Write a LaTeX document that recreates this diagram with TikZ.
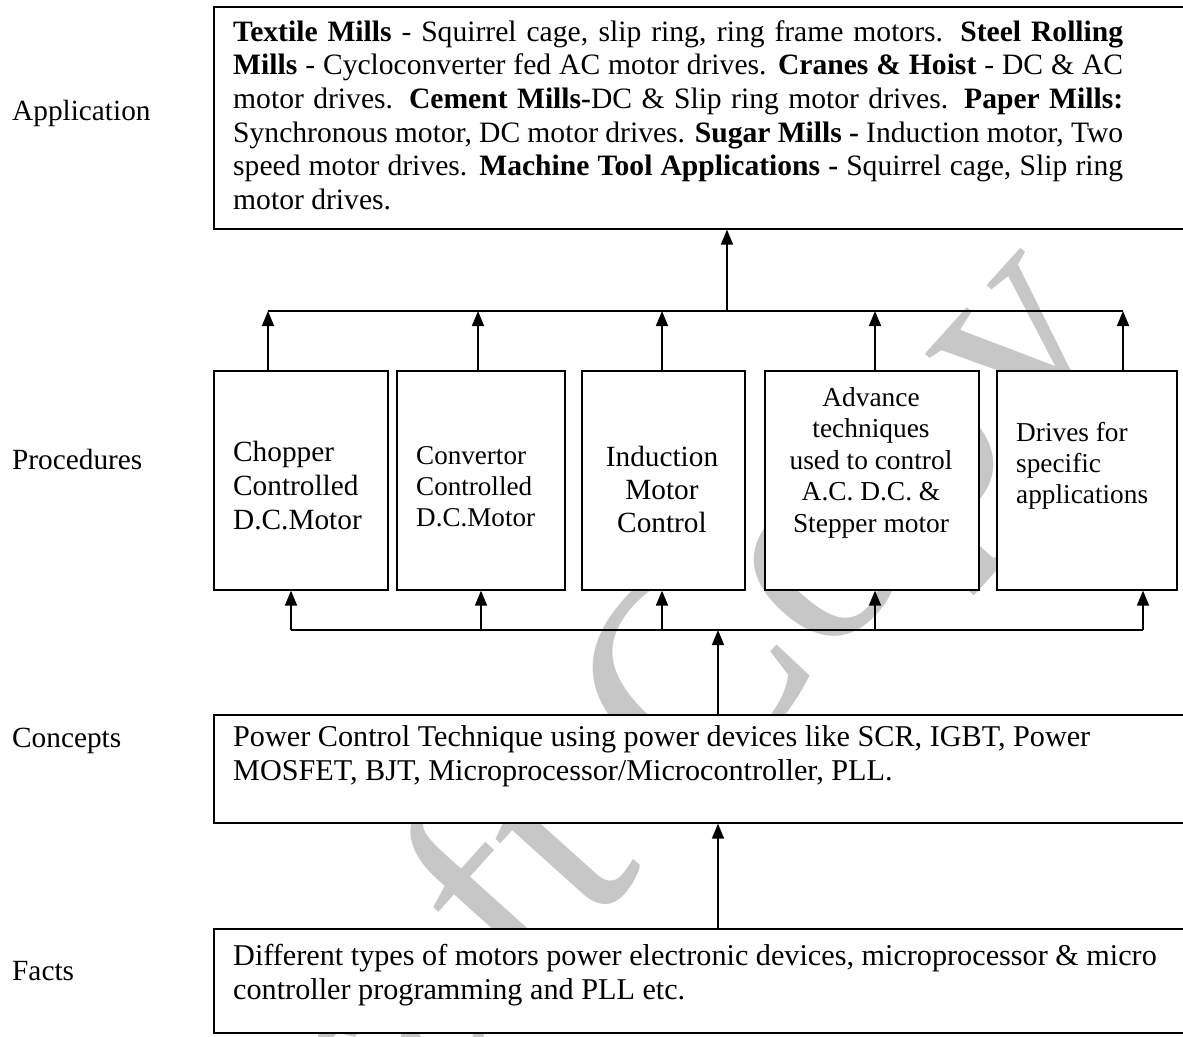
\documentclass[tikz,border=0pt]{standalone}
\usepackage{fontspec}
\setmainfont{Liberation Serif}
\usetikzlibrary{arrows.meta}
% top-aligned text block: width, font size, line pitch, contents
\newcommand{\mkblock}[4]{\parbox[t]{#1}{\fontsize{#2}{#3}\selectfont #4}}
\begin{document}
\begin{tikzpicture}[x=1pt,y=-1pt,
  box/.style={draw,fill=white,line width=1.6pt,inner sep=0pt,anchor=north west},
  link/.style={line width=1.6pt},
  arr/.style={line width=1.6pt,-{Triangle[length=15pt,width=12pt]}},
  txt/.style={inner sep=0pt,anchor=base west},
  ctxt/.style={inner sep=0pt,anchor=base},
  lbl/.style={inner sep=0pt,anchor=base west,font=\fontsize{29.3}{33.7}\selectfont},
  wmark/.style={inner sep=0pt,text=black!22,font=\fontsize{295}{295}\selectfont}
]
\useasboundingbox (0,0) rectangle (1183,1036);

% watermark, lying behind the opaque frames
\node[wmark,rotate=48] (wm) at (622,786) {Draft Copy};

% level labels
\node[lbl] (lapp)  at (12,120) {Application};
\node[lbl] (lproc) at (12,469) {Procedures};
\node[lbl] (lcon)  at (12,747) {Concepts};
\node[lbl] (lfac)  at (12,980) {Facts};

% frames
\node[box,minimum width=987pt,minimum height=222pt] (app) at (213,6) {};
\node[box,minimum width=174pt,minimum height=219pt] (b1) at (213,370) {};
\node[box,minimum width=168pt,minimum height=219pt] (b2) at (396,370) {};
\node[box,minimum width=163pt,minimum height=219pt] (b3) at (581,370) {};
\node[box,minimum width=214pt,minimum height=219pt] (b4) at (764,370) {};
\node[box,minimum width=180pt,minimum height=219pt] (b5) at (996,370) {};
\node[box,minimum width=987pt,minimum height=108pt] (con) at (213,714) {};
\node[box,minimum width=987pt,minimum height=104pt] (fac) at (213,928) {};

% frame contents
\node[txt] (tapp) at (233,41) {\mkblock{890pt}{29.6}{33.7}{%
\textbf{Textile Mills} - Squirrel cage, slip ring, ring frame motors. \textbf{Steel Rolling}\linebreak
\textbf{Mills} - Cycloconverter fed AC motor drives. \textbf{Cranes \& Hoist} - DC \& AC\linebreak
motor drives. \textbf{Cement Mills-}DC \& Slip ring motor drives. \textbf{Paper Mills:}\linebreak
Synchronous motor, DC motor drives. \textbf{Sugar Mills -} Induction motor, Two\linebreak
speed motor drives. \textbf{Machine Tool Applications -} Squirrel cage, Slip ring\linebreak
motor drives.}};
\node[txt] (tb1) at (233,461) {\mkblock{150pt}{29.3}{34}{\raggedright
Chopper\\Controlled\\D.C.Motor}};
\node[txt] (tb2) at (416,464) {\mkblock{145pt}{27.1}{31}{\raggedright
Convertor\\Controlled\\D.C.Motor}};
\node[ctxt] (tb3) at (662,466) {\mkblock{150pt}{29.3}{33}{\centering
Induction\\Motor\\Control}};
\node[ctxt] (tb4) at (871,406) {\mkblock{210pt}{27.4}{31.6}{\centering
Advance\\techniques\\used to control\\A.C. D.C. \&\\Stepper motor}};
\node[txt] (tb5) at (1016,441) {\mkblock{160pt}{27.3}{31}{\raggedright
Drives for\\specific\\applications}};
\node[txt] (tcon) at (233,746) {\mkblock{950pt}{30.2}{34}{\raggedright
Power Control Technique using power devices like SCR, IGBT, Power\\
MOSFET, BJT, Microprocessor/Microcontroller, PLL.}};
\node[txt] (tfac) at (233,965) {\mkblock{950pt}{30.2}{34}{\raggedright
Different types of motors power electronic devices, microprocessor \& micro\\
controller programming and PLL etc.}};

% upper collecting bus
\coordinate (t1) at (268,311);
\coordinate (t2) at (478,311);
\coordinate (t3) at (662,311);
\coordinate (t4) at (875,311);
\coordinate (t5) at (1123,311);
\coordinate (tj) at (727,311);
\draw[link] (t1) -- (t5);
\foreach \i in {1,...,5}{\draw[arr] (t\i |- b\i.north) -- (t\i);}
\draw[arr] (tj) -- (tj |- app.south);

% lower distributing bus
\coordinate (u1) at (291,630);
\coordinate (u2) at (481,630);
\coordinate (u3) at (662,630);
\coordinate (u4) at (875,630);
\coordinate (u5) at (1143,630);
\coordinate (uj) at (718,630);
\draw[link] (u1) -- (u5);
\foreach \i in {1,...,5}{\draw[arr] (u\i) -- (u\i |- b\i.south);}
\draw[arr] (uj |- con.north) -- (uj);
\draw[arr] (uj |- fac.north) -- (uj |- con.south);
\end{tikzpicture}
\end{document}
